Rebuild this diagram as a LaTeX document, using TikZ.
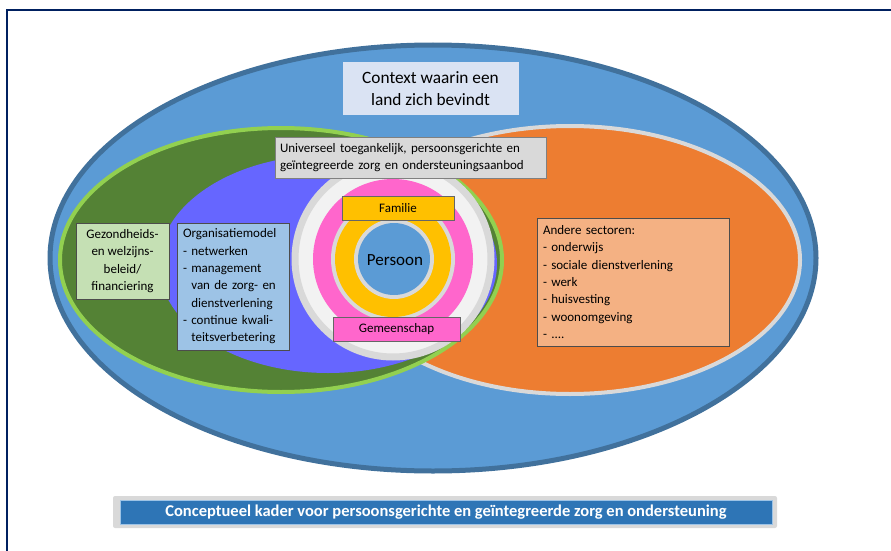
\documentclass[tikz,border=0pt]{standalone}
\usepackage{fontspec}
\setmainfont{Carlito}
\usepackage{tikz}
\definecolor{framenavy}{HTML}{002060}
\definecolor{ctxblue}{HTML}{5B9BD5}
\definecolor{ctxborder}{HTML}{41719C}
\definecolor{ctxlight}{HTML}{DAE3F3}
\definecolor{sectororange}{HTML}{ED7D31}
\definecolor{sectorlight}{HTML}{F4B183}
\definecolor{policygreen}{HTML}{548235}
\definecolor{policyborder}{HTML}{92D050}
\definecolor{policylight}{HTML}{C5E0B4}
\definecolor{orgpurple}{HTML}{6666FF}
\definecolor{orglight}{HTML}{9DC3E6}
\definecolor{ringgray}{HTML}{D9D9D9}
\definecolor{ringwhite}{HTML}{F2F2F2}
\definecolor{communitypink}{HTML}{FF66CC}
\definecolor{familyyellow}{HTML}{FFC000}
\definecolor{bannerblue}{HTML}{2E75B6}
\tikzset{
every picture/.style={line width=0.8pt},
%%%%%%%%%%  Area styles
area/.style args={#1,#2}{fill=#1, draw=#2, line width=4pt},
%%%%%%%%%%  Box styles
info_box/.style={draw=black!70, thin, rectangle, inner sep=3pt,
                 font=\fontsize{13}{17.3}\selectfont},
list_box/.style args={#1,#2}{info_box, fill=#1, text width=#2, align=left,
                 inner xsep=6pt},
label_box/.style={info_box, minimum height=24pt, align=center},
%% big texts
ctx_text/.style={font=\fontsize{17.3}{22}\selectfont},
banner_text/.style={text=white, font=\bfseries\fontsize{16.5}{18}\selectfont}
}
\begin{document}
\begin{tikzpicture}[x=1pt,y=-1pt]
\useasboundingbox (0,0) rectangle (891,551);
%% frame of the page
\draw[framenavy, line width=2.5pt] (7,551) -- (7,10) -- (891,10);
%%%%%%%%%%%%%%%%%%%%%%%%%%%%%%%%%%%%%%%%%%%%%%%%%%%%
%% the context; outer ellipse
\draw[area={ctxblue,ctxborder}, line width=5pt] (433,258)
	ellipse [x radius=383pt, y radius=213pt];
%% other sectors, then policy on top of it
\draw[area={sectororange,ringgray}] (570,260)
	ellipse [x radius=230pt, y radius=134pt];
\draw[area={policygreen,policyborder}] (281,260)
	ellipse [x radius=221pt, y radius=132pt];
\fill[orgpurple] (328,264) ellipse [x radius=169pt, y radius=109pt];
%%%%%%%%%%%%%%%%%%%%%%%%%%%%%%%%%%%%%%%%%%%%%%%%%%%%
%% the rings round the person
\draw[fill=ringwhite, draw=ringgray, line width=7pt] (393,259) circle (98pt);
\fill[communitypink] (393,259) circle (80pt);
\fill[ringgray] (393,259) circle (62pt);
\fill[familyyellow] (393,259) circle (58pt);
\fill[ringgray] (394,259) circle (40pt);
\fill[ctxblue] (394,259) circle (36pt);
\node[font=\fontsize{17}{20}\selectfont] (persoon) at (395,260) {Persoon};
%%%%%%%%%%%%%%%%%%%%%%%%%%%%%%%%%%%%%%%%%%%%%%%%%%%%
%% boxes
\node[ctx_text, fill=ctxlight, minimum width=176pt, minimum height=53pt,
	align=center] (context) at (430.5,88.5) {Context waarin een\\land zich bevindt};
\node[list_box={ringgray,261pt}, draw=black!50, inner xsep=5pt,
	minimum height=41pt] (aanbod) at (410.5,157.5)
	{Universeel toegankelijk, persoonsgerichte en\\geïntegreerde zorg en ondersteuningsaanbod};
\node[label_box, fill=familyyellow, draw=black!60, minimum width=112pt]
	(familie) at (398,208) {Familie};
\node[label_box, fill=communitypink, draw=black!60, minimum width=127pt]
	(gemeenschap) at (396.5,329) {Gemeenschap};
\node[info_box, fill=policylight, minimum width=93pt, minimum height=76pt,
	align=center] (beleid) at (122.5,261)
	{Gezondheids-\\en welzijns-\\beleid/\\financiering};
\node[list_box={orglight,100pt}, minimum height=127pt] (organisatie) at (233,286.5)
	{Organisatiemodel\\- netwerken\\- management\\\phantom{- }van de zorg- en\\%
	\phantom{- }dienstverlening\\- continue kwali-\\\phantom{- }teitsverbetering};
\node[list_box={sectorlight,180pt}, minimum height=128pt] (sectoren) at (633,282)
	{Andere sectoren:\\- onderwijs\\- sociale dienstverlening\\- werk\\- huisvesting\\%
	- woonomgeving\\- ....};
%%%%%%%%%%%%%%%%%%%%%%%%%%%%%%%%%%%%%%%%%%%%%%%%%%%%
%% title banner; gray back, then blue front
\node[fill=ringgray, rounded corners=2pt, minimum width=664pt,
	minimum height=32pt] (banner_back) at (445,512) {};
\node[banner_text, fill=bannerblue, draw=orglight, thin, minimum width=652pt,
	minimum height=24pt] (banner) at (446,512)
	{Conceptueel kader voor persoonsgerichte en geïntegreerde zorg en ondersteuning};
\end{tikzpicture}
\end{document}
